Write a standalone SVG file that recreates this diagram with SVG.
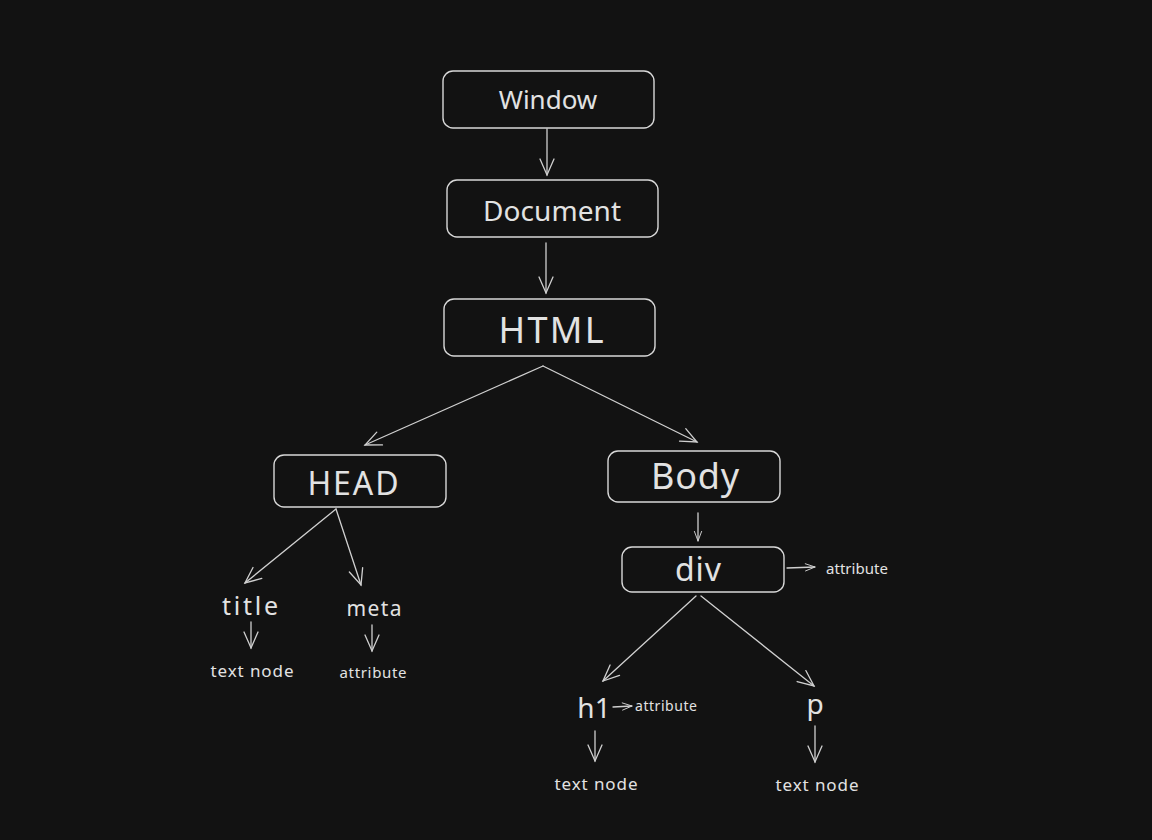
<svg xmlns="http://www.w3.org/2000/svg" width="1152" height="840" viewBox="0 0 1152 840">
<defs>
<style>
.box{fill:#121212;stroke:#d8d8d8;stroke-width:1.4}
.t{fill:#e2e2e2;font-family:"Comic Sans MS","Noto Sans","DejaVu Sans",sans-serif;text-anchor:middle;dominant-baseline:central}
.c{fill:none;stroke:#d0d0d0;stroke-width:1.3;stroke-linecap:round}
</style>
<marker id="ah" viewBox="0 0 20 20" refX="18" refY="10" markerWidth="20" markerHeight="20" markerUnits="userSpaceOnUse" orient="auto">
<path d="M2,3 L18,10 L2,17" fill="none" stroke="#d0d0d0" stroke-width="1.3" stroke-linecap="round"/>
</marker>
<marker id="ahs" viewBox="0 0 20 20" refX="18" refY="10" markerWidth="12" markerHeight="12" markerUnits="userSpaceOnUse" orient="auto">
<path d="M2,4 L18,10 L2,16" fill="none" stroke="#d0d0d0" stroke-width="1.6" stroke-linecap="round"/>
</marker>
</defs>
<rect width="1152" height="840" fill="#121212"/>
<g id="connectors">
<path class="c" d="M547,129 L547,175" marker-end="url(#ah)"/>
<path class="c" d="M546,243 L546,293" marker-end="url(#ah)"/>
<path class="c" d="M543,366 L365,445" marker-end="url(#ah)"/>
<path class="c" d="M543,366 L697,442" marker-end="url(#ah)"/>
<path class="c" d="M336,509 L245,583" marker-end="url(#ah)"/>
<path class="c" d="M336,509 L361,585" marker-end="url(#ah)"/>
<path class="c" d="M251,622 L251,648" marker-end="url(#ah)"/>
<path class="c" d="M372,625 L372,651" marker-end="url(#ah)"/>
<path class="c" d="M698,513 L698,541" marker-end="url(#ahs)"/>
<path class="c" d="M787,568 L815,567" marker-end="url(#ahs)"/>
<path class="c" d="M696,596 L603,681" marker-end="url(#ah)"/>
<path class="c" d="M701,596 L814,686" marker-end="url(#ah)"/>
<path class="c" d="M613,707 L632,706" marker-end="url(#ahs)"/>
<path class="c" d="M595,731 L595,761" marker-end="url(#ah)"/>
<path class="c" d="M815,726 L815,762" marker-end="url(#ah)"/>
</g>
<g id="window"><rect class="box" x="443" y="71" width="211" height="57" rx="10"/><text class="t" x="548" y="99" font-size="26">Window</text></g>
<g id="document"><rect class="box" x="447" y="180" width="211" height="57" rx="10"/><text class="t" x="552" y="210" font-size="28" textLength="138" lengthAdjust="spacing">Document</text></g>
<g id="html"><rect class="box" x="444" y="299" width="211" height="57" rx="10"/><text class="t" x="551" y="329" font-size="36" textLength="105" lengthAdjust="spacing">HTML</text></g>
<g id="head"><rect class="box" x="274" y="455" width="172" height="52" rx="10"/><text class="t" x="353" y="482" font-size="32" textLength="91" lengthAdjust="spacing">HEAD</text></g>
<g id="body"><rect class="box" x="608" y="451" width="172" height="51" rx="10"/><text class="t" x="695" y="475" font-size="36" textLength="88" lengthAdjust="spacing">Body</text></g>
<g id="div"><rect class="box" x="622" y="547" width="162" height="45" rx="10"/><text class="t" x="698" y="568" font-size="32" textLength="46" lengthAdjust="spacing">div</text></g>
<g id="div-attribute"><text class="t" x="857" y="568" font-size="15" textLength="62" lengthAdjust="spacing">attribute</text></g>
<g id="title"><text class="t" x="250" y="605" font-size="25" textLength="56" lengthAdjust="spacing">title</text></g>
<g id="meta"><text class="t" x="374" y="608" font-size="21" textLength="55" lengthAdjust="spacing">meta</text></g>
<g id="title-text"><text class="t" x="252" y="670" font-size="17" textLength="83" lengthAdjust="spacing">text node</text></g>
<g id="meta-attribute"><text class="t" x="373" y="672" font-size="15" textLength="67" lengthAdjust="spacing">attribute</text></g>
<g id="h1"><text class="t" x="594" y="707" font-size="28">h1</text></g>
<g id="h1-attribute"><text class="t" x="666" y="705" font-size="14" textLength="62" lengthAdjust="spacing">attribute</text></g>
<g id="p"><text class="t" x="815" y="703" font-size="28">p</text></g>
<g id="h1-text"><text class="t" x="596" y="783" font-size="17" textLength="83" lengthAdjust="spacing">text node</text></g>
<g id="p-text"><text class="t" x="817" y="784" font-size="17" textLength="83" lengthAdjust="spacing">text node</text></g>
</svg>
